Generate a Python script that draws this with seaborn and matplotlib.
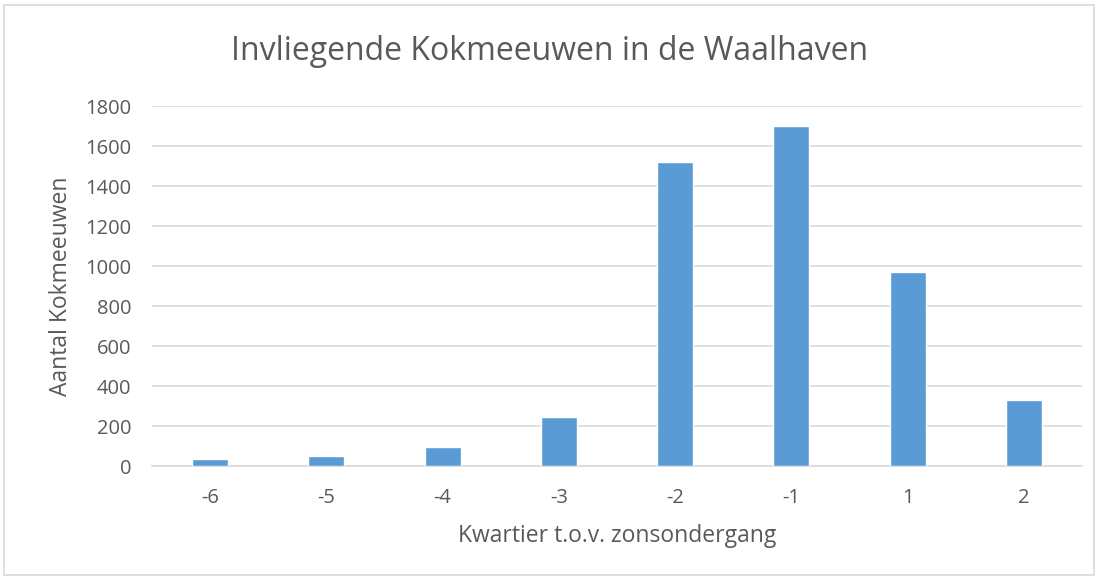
import matplotlib
matplotlib.use("Agg")
import matplotlib.pyplot as plt
import seaborn as sns
import pandas as pd
from matplotlib.patches import Rectangle

categories = ["-6", "-5", "-4", "-3", "-2", "-1", "1", "2"]
values = [37, 48, 93, 245, 1520, 1700, 970, 330]
yticks = [0, 200, 400, 600, 800, 1000, 1200, 1400, 1600, 1800]

df = pd.DataFrame({"kwartier": categories, "aantal": values})

sns.set_theme(style="white")
plt.rcParams['font.family'] = ['Open Sans', 'DejaVu Sans']

fig = plt.figure(figsize=(10.99, 5.79), dpi=100)
ax = fig.add_axes([152/1099, 1 - 466/579, 930/1099, 360/579])

sns.barplot(data=df, x="kwartier", y="aantal", order=categories, color="#5b9bd5",
            width=0.31, saturation=1, ax=ax, zorder=3)

ax.set_ylim(0, 1800)
ax.set_xlim(-0.5, len(categories) - 0.5)
ax.set_yticks(yticks)
ax.yaxis.grid(True, color="#d9d9d9", linewidth=1.2, zorder=0)
ax.set_axisbelow(True)
for s in ["top", "right", "left"]:
    ax.spines[s].set_visible(False)
ax.spines["bottom"].set_color("#d9d9d9")
ax.spines["bottom"].set_linewidth(1.2)
ax.tick_params(axis="both", length=0, labelsize=14.5, labelcolor="#595959")
ax.tick_params(axis="y", pad=15)
ax.tick_params(axis="x", pad=16)

ax.set_xlabel("Kwartier t.o.v. zonsondergang", fontsize=16.5, color="#595959", labelpad=11)
ax.set_ylabel("Aantal Kokmeeuwen", fontsize=16.5, color="#595959", labelpad=9)

fig.text(0.5, 1 - 52/579, "Invliegende Kokmeeuwen in de Waalhaven", ha="center", va="center",
         fontsize=23, color="#595959")

fig.patches.append(Rectangle((4/1099, 4/579), 1090/1099, 570/579, transform=fig.transFigure,
                             fill=False, edgecolor="#d9d9d9", linewidth=1.2))

fig.savefig("out.png", dpi=100)
